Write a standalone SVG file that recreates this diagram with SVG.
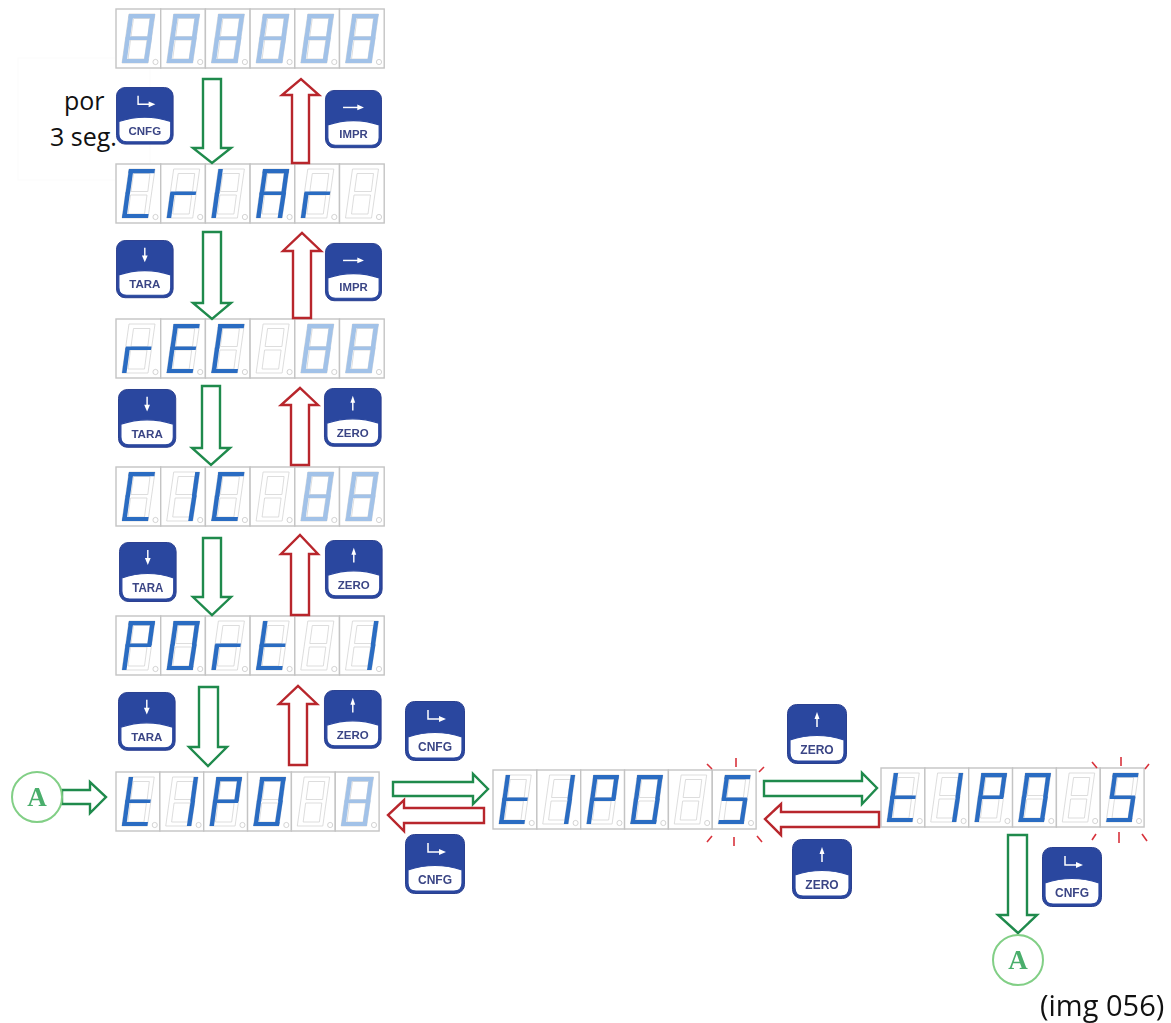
<svg xmlns="http://www.w3.org/2000/svg" width="1171" height="1023" viewBox="0 0 1171 1023">
<style>
.on{fill:#2c6cc2}
.dim{fill:#a2c2e8}
.ghost{fill:none;stroke:#d4d4d4;stroke-width:.8}
.cellbox{fill:#fff;stroke:#c4c4c4;stroke-width:1.4}
.dot{fill:#fff;stroke:#c8c8c8;stroke-width:.8}
.go{fill:#fff;stroke:#1f8a4c;stroke-width:2.4}
.back{fill:#fff;stroke:#b8262c;stroke-width:2.4}
.spark{stroke:#d8333c;stroke-width:1.6;fill:none}
.cap{font-family:"Open Sans","Noto Sans",sans-serif;font-size:25px;fill:#111}
.big{font-size:29px}
.bt{font-family:"Liberation Sans",Arial,sans-serif;font-weight:700;font-size:12px;fill:#3a4585;text-anchor:middle}
.ring{fill:#fff;stroke:#82cf86;stroke-width:2}
.ringt{font-family:"Liberation Serif",serif;font-weight:700;font-size:27px;fill:#4aae6c;text-anchor:middle}
.body{fill:#2a479f;stroke:#2a3f8f;stroke-width:1}
.face{fill:#fff;stroke:#2a479f;stroke-width:1.2}
.ico{stroke:#fff;stroke-width:1.5;fill:none}
.icf{fill:#fff}
</style>
<defs>
<filter id="soft" x="-2%" y="-2%" width="104%" height="104%"><feGaussianBlur stdDeviation="0.55"/></filter>
<polygon id="a" points="13,5 39,5 38.4,9.2 12.4,9.2"/>
<polygon id="b" points="39,5 35.6,29.5 31.1,29.5 34.5,5"/>
<polygon id="c" points="36,28.5 32,54 27.5,54 31.5,28.5"/>
<polygon id="d" points="6.8,50 32.6,50 32,54 6,54"/>
<polygon id="e" points="9.5,28.5 14,28.5 10.5,54 6,54"/>
<polygon id="f" points="13,5 17.5,5 14,29.5 9.5,29.5"/>
<polygon id="s" points="10,27.4 35.5,27.4 35,31 9.5,31"/>
<g id="G8"><use href="#a"/><use href="#b"/><use href="#c"/><use href="#d"/><use href="#e"/><use href="#f"/><use href="#s"/></g>
<g id="GC"><use href="#a"/><use href="#d"/><use href="#e"/><use href="#f"/></g>
<g id="Gr"><use href="#e"/><use href="#s"/></g>
<g id="GI"><use href="#e"/><use href="#f"/></g>
<g id="G1"><use href="#b"/><use href="#c"/></g>
<g id="GA"><use href="#a"/><use href="#b"/><use href="#c"/><use href="#e"/><use href="#f"/><use href="#s"/></g>
<g id="GE"><use href="#a"/><use href="#d"/><use href="#e"/><use href="#f"/><use href="#s"/></g>
<g id="GP"><use href="#a"/><use href="#b"/><use href="#e"/><use href="#f"/><use href="#s"/></g>
<g id="GO"><use href="#a"/><use href="#b"/><use href="#c"/><use href="#d"/><use href="#e"/><use href="#f"/></g>
<g id="Gt"><use href="#d"/><use href="#e"/><use href="#f"/><use href="#s"/></g>
<g id="GS"><use href="#a"/><use href="#c"/><use href="#d"/><use href="#f"/><use href="#s"/></g>
<g id="cell"><rect class="cellbox" width="44.7" height="59"/><path class="ghost" d="M13 5H39L32 54H6ZM17.5 9.5H34L31.8 27.5H15ZM14.5 31H31L28.5 50H12Z"/><circle class="dot" cx="39.5" cy="53" r="2.6"/></g>
<g id="frame"><use href="#cell"/><use href="#cell" x="44.7"/><use href="#cell" x="89.4"/><use href="#cell" x="134.1"/><use href="#cell" x="178.8"/><use href="#cell" x="223.5"/></g>
<g id="btn"><rect class="body" x="0.5" y="0.5" width="59" height="59" rx="9"/><path class="face" d="M3 36Q30 27 57 36V49Q57 57 49 57H11Q3 57 3 49Z"/></g>
<g id="i-cnfg"><path class="ico" d="M23 9V18H35"/><path class="icf" d="M34 15L41 18L34 21Z"/></g>
<g id="i-impr"><path class="ico" d="M19 18H35"/><path class="icf" d="M34 15L41 18L34 21Z"/></g>
<g id="i-tara"><path class="ico" d="M30 8V17"/><path class="icf" d="M27 16L30 23L33 16Z"/></g>
<g id="i-zero"><path class="ico" d="M30 14V23"/><path class="icf" d="M27.5 15L30 8L32.5 15Z"/></g>
</defs>
<rect width="1171" height="1023" fill="#fff"/>
<rect x="18" y="58" width="132" height="122" fill="#fff" stroke="#fbfbfb"/>
<g id="caption-time">
<text class="cap" x="64" y="110">por</text>
<text class="cap" x="50" y="146">3 seg.</text>
</g>
<g id="displays" filter="url(#soft)">
<g id="display-1" transform="translate(116,9)"><use href="#frame"/><g class="dim"><use href="#G8"/><use href="#G8" x="44.7"/><use href="#G8" x="89.4"/><use href="#G8" x="134.1"/><use href="#G8" x="178.8"/><use href="#G8" x="223.5"/></g></g>
<g id="display-2" transform="translate(116,164)"><use href="#frame"/><g class="on"><use href="#GC"/><use href="#Gr" x="44.7"/><use href="#GI" x="89.4"/><use href="#GA" x="134.1"/><use href="#Gr" x="178.8"/></g></g>
<g id="display-3" transform="translate(116,319)"><use href="#frame"/><g class="on"><use href="#Gr"/><use href="#GE" x="44.7"/><use href="#GC" x="89.4"/></g><g class="dim"><use href="#G8" x="178.8"/><use href="#G8" x="223.5"/></g></g>
<g id="display-4" transform="translate(116,467)"><use href="#frame"/><g class="on"><use href="#GC"/><use href="#G1" x="44.7"/><use href="#GC" x="89.4"/></g><g class="dim"><use href="#G8" x="178.8"/><use href="#G8" x="223.5"/></g></g>
<g id="display-5" transform="translate(116,616)"><use href="#frame"/><g class="on"><use href="#GP"/><use href="#GO" x="44.7"/><use href="#Gr" x="89.4"/><use href="#Gt" x="134.1"/><use href="#G1" x="223.5"/></g></g>
<g id="display-6" transform="translate(116,772) scale(.981,1)"><use href="#frame"/><g class="on"><use href="#Gt"/><use href="#G1" x="44.7"/><use href="#GP" x="89.4"/><use href="#GO" x="134.1"/></g><g class="dim"><use href="#G8" x="223.5"/></g></g>
<g id="display-7" transform="translate(493,770) scale(.981,1)"><use href="#frame"/><g class="on"><use href="#Gt"/><use href="#G1" x="44.7"/><use href="#GP" x="89.4"/><use href="#GO" x="134.1"/><use href="#GS" x="223.5"/></g></g>
<g id="display-8" transform="translate(881,768) scale(.981,1)"><use href="#frame"/><g class="on"><use href="#Gt"/><use href="#G1" x="44.7"/><use href="#GP" x="89.4"/><use href="#GO" x="134.1"/><use href="#GS" x="223.5"/></g></g>
</g>
<g id="sparks" class="spark">
<path d="M707 764L712 769M736 758V767M764 767L759 772M707 842L712 836M734 837V846M757 836L762 842"/>
<path d="M1092 762L1097 768M1121 757V766M1149 764L1145 769M1092 840L1096 834M1119 832V843M1142 834L1147 841"/>
</g>
<g id="buttons" filter="url(#soft)">
<g id="btn-cnfg-1" transform="translate(116,87) scale(.96)"><use href="#btn"/><use href="#i-cnfg"/><text class="bt" x="30" y="50">CNFG</text></g>
<g id="btn-impr-1" transform="translate(325,90) scale(.95,.97)"><use href="#btn"/><use href="#i-impr"/><text class="bt" x="30" y="50">IMPR</text></g>
<g id="btn-tara-1" transform="translate(116,240) scale(.96,.97)"><use href="#btn"/><use href="#i-tara"/><text class="bt" x="30" y="50">TARA</text></g>
<g id="btn-impr-2" transform="translate(325,243) scale(.95,.97)"><use href="#btn"/><use href="#i-impr"/><text class="bt" x="30" y="50">IMPR</text></g>
<g id="btn-tara-2" transform="translate(118,389) scale(.97,.98)"><use href="#btn"/><use href="#i-tara"/><text class="bt" x="30" y="50">TARA</text></g>
<g id="btn-zero-1" transform="translate(324,388) scale(.96,.98)"><use href="#btn"/><use href="#i-zero"/><text class="bt" x="30" y="50">ZERO</text></g>
<g id="btn-tara-3" transform="translate(119,542) scale(.96,1)"><use href="#btn"/><use href="#i-tara"/><text class="bt" x="30" y="50">TARA</text></g>
<g id="btn-zero-2" transform="translate(325,540) scale(.96,.98)"><use href="#btn"/><use href="#i-zero"/><text class="bt" x="30" y="50">ZERO</text></g>
<g id="btn-tara-4" transform="translate(118,692) scale(.96,.98)"><use href="#btn"/><use href="#i-tara"/><text class="bt" x="30" y="50">TARA</text></g>
<g id="btn-zero-3" transform="translate(324,690) scale(.96,.98)"><use href="#btn"/><use href="#i-zero"/><text class="bt" x="30" y="50">ZERO</text></g>
<g id="btn-cnfg-2" transform="translate(405,701)"><use href="#btn"/><use href="#i-cnfg"/><text class="bt" x="30" y="50">CNFG</text></g>
<g id="btn-cnfg-3" transform="translate(405,834)"><use href="#btn"/><use href="#i-cnfg"/><text class="bt" x="30" y="50">CNFG</text></g>
<g id="btn-zero-4" transform="translate(787,704)"><use href="#btn"/><use href="#i-zero"/><text class="bt" x="30" y="50">ZERO</text></g>
<g id="btn-zero-5" transform="translate(792,839)"><use href="#btn"/><use href="#i-zero"/><text class="bt" x="30" y="50">ZERO</text></g>
<g id="btn-cnfg-4" transform="translate(1042,847)"><use href="#btn"/><use href="#i-cnfg"/><text class="bt" x="30" y="50">CNFG</text></g>
</g>
<g id="connectors">
<path class="go" d="M203 79H221V148H231L212 163L193 148H203Z"/>
<path class="back" d="M292 163V95H282L301 79L319 95H309V163Z"/>
<path class="go" d="M203 232H221V303H231L212 319L193 303H203Z"/>
<path class="back" d="M293 318V251H283L302 233L321 251H311V318Z"/>
<path class="go" d="M202 386H220V448H230L211 465L192 448H202Z"/>
<path class="back" d="M291 465V405H281L300 388L318 405H309V465Z"/>
<path class="go" d="M203 538H221V597H231L212 615L193 597H203Z"/>
<path class="back" d="M291 615V554H281L300 535L318 554H309V615Z"/>
<path class="go" d="M199 687H218V747H227L208 766L189 747H199Z"/>
<path class="back" d="M289 765V704H279L298 686L317 704H307V765Z"/>
<path class="go" d="M62 790H90V782L106 797L90 813V804H62Z"/>
<path class="go" d="M393 782H473V774L488 789L473 804V796H393Z"/>
<path class="back" d="M484 808H404V800L388 815L404 831V823H484Z"/>
<path class="go" d="M764 781H862V773L877 788L862 804V796H764Z"/>
<path class="back" d="M879 812H781V804L765 819L781 835V827H879Z"/>
<path class="go" d="M1008 835H1027V915H1037L1018 933L998 915H1008Z"/>
</g>
<g id="marker-a-start"><circle class="ring" cx="37" cy="797" r="25"/><text class="ringt" x="37" y="806">A</text></g>
<g id="marker-a-end"><circle class="ring" cx="1018" cy="960" r="25"/><text class="ringt" x="1018" y="969">A</text></g>
<text id="caption-img" class="cap big" x="1040" y="1016">(img 056)</text>
</svg>
